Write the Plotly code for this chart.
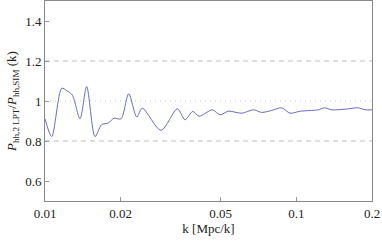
import plotly.graph_objects as go

k_vals = [0.0100, 0.01063, 0.01166, 0.01220, 0.01284, 0.01378, 0.01465, 0.01581,
          0.01681, 0.01786, 0.01882, 0.02006, 0.02153, 0.02317, 0.02439, 0.02894,
          0.03361, 0.03607, 0.0387, 0.04101, 0.04632, 0.04972, 0.05363, 0.06063,
          0.06745, 0.07284, 0.07982, 0.08748, 0.09438, 0.1034, 0.1083, 0.1224,
          0.1293, 0.1383, 0.1563, 0.1765, 0.1877, 0.2]
ratio = [0.911, 0.822, 1.064, 1.052, 1.030, 0.911, 1.072, 0.822,
         0.882, 0.890, 0.914, 0.911, 1.036, 0.920, 0.964, 0.853,
         0.961, 0.906, 0.948, 0.924, 0.956, 0.931, 0.949, 0.939,
         0.956, 0.943, 0.953, 0.966, 0.939, 0.949, 0.951, 0.956,
         0.966, 0.956, 0.959, 0.966, 0.956, 0.956]

x_ticks = [0.01, 0.02, 0.05, 0.1, 0.2]
x_ticklabels = ["0.01", "0.02", "0.05", "0.1", "0.2"]
y_ticks = [0.6, 0.8, 1.0, 1.2, 1.4]
y_ticklabels = ["0.6", "0.8", "1", "1.2", "1.4"]
dashed_levels = [0.8, 1.2]
dotted_levels = [1.0]

SERIF = "Liberation Serif"

fig = go.Figure()
fig.add_trace(go.Scatter(x=k_vals, y=ratio, mode="lines",
                         line=dict(color="#6a6ac6", width=1, shape="spline", smoothing=0.8),
                         showlegend=False, hoverinfo="skip"))

for lv in dashed_levels:
    fig.add_hline(y=lv, line=dict(color="#d4d4d4", width=1.3, dash="5px,4px"), layer="below")
for lv in dotted_levels:
    fig.add_hline(y=lv, line=dict(color="#c8c8c8", width=1, dash="1px,4px"), layer="below")

axis_common = dict(showline=True, linecolor="#888888", linewidth=1, mirror=True,
                   ticks="inside", ticklen=4, tickcolor="#999999", showgrid=False,
                   zeroline=False, tickfont=dict(family=SERIF, size=13, color="#222"))

fig.update_xaxes(type="log", range=[-2, -0.69897], tickvals=x_ticks, ticktext=x_ticklabels,
                 title=dict(text="k [Mpc/k]", font=dict(family=SERIF, size=13, color="#222"),
                            standoff=2), **axis_common)
fig.update_yaxes(range=[0.5, 1.5], tickvals=y_ticks, ticktext=y_ticklabels,
                 title=dict(text="<i>P</i><sub>hh,2 LPT</sub>/<i>P</i><sub>hh,SIM</sub> (k)",
                            font=dict(family=SERIF, size=13, color="#222"), standoff=5),
                 **axis_common)

fig.update_layout(width=382, height=242, margin=dict(l=45, r=10, t=1, b=41),
                  font=dict(family=SERIF, size=13, color="#222"),
                  paper_bgcolor="white", plot_bgcolor="white")
fig.write_html("out.html", config={"displayModeBar": False, "staticPlot": True},
               post_script="document.body.style.margin='0';document.body.style.overflow='hidden';")
